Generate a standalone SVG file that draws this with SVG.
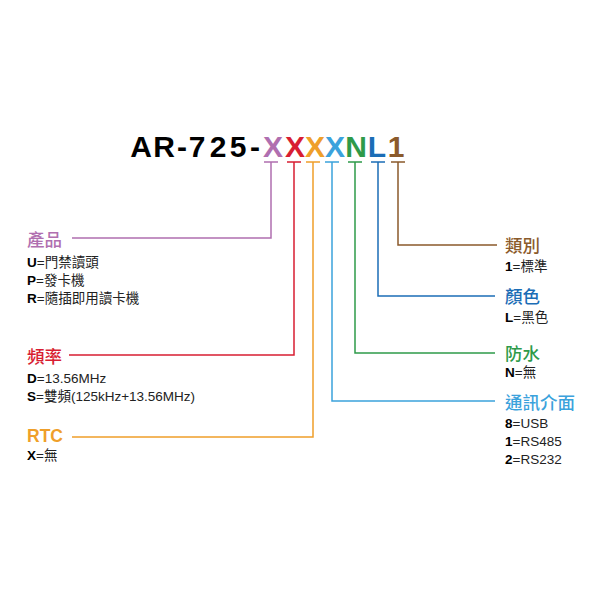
<svg xmlns="http://www.w3.org/2000/svg" width="600" height="600" viewBox="0 0 600 600">
<style>
.t{font-family:"Liberation Sans","Noto Sans CJK TC",sans-serif;font-weight:bold;font-size:30px;text-anchor:middle}
.h{font-family:"Liberation Sans","Noto Sans CJK TC",sans-serif;font-size:17.5px;font-weight:500}
.h.bold{font-weight:bold}
.d{font-family:"Liberation Sans","Noto Sans CJK TC",sans-serif;font-size:13.5px;fill:#222}
.d tspan.b{font-weight:bold;fill:#000}
.c{fill:none;stroke-width:1.5}
</style>
<rect width="600" height="600" fill="#fff"/>
<g id="title">
<text class="t" x="141" y="157">A</text>
<text class="t" x="164" y="157">R</text>
<text class="t" x="182" y="157">-</text>
<text class="t" x="197" y="157">7</text>
<text class="t" x="218" y="157">2</text>
<text class="t" x="238" y="157">5</text>
<text class="t" x="255" y="157">-</text>
<text class="t" x="273" y="157" fill="#b06fb0">X</text>
<text class="t" x="295" y="157" fill="#d81e32">X</text>
<text class="t" x="315" y="157" fill="#ef9f2a">X</text>
<text class="t" x="335" y="157" fill="#3ba2dc">X</text>
<text class="t" x="356" y="157" fill="#2e9a4a">N</text>
<text class="t" x="377" y="157" fill="#1b6db6">L</text>
<text class="t" x="396" y="157" fill="#8b5a2b">1</text>
</g>
<g id="connectors">
<path class="c" stroke="#b06fb0" d="M264 162H278M271 162V238H72"/>
<path class="c" stroke="#d81e32" d="M287 162H301M294 162V355H69"/>
<path class="c" stroke="#ef9f2a" d="M306 162H320M313 162V437H72"/>
<path class="c" stroke="#3ba2dc" d="M325 162H339M332 162V401H495"/>
<path class="c" stroke="#2e9a4a" d="M348 162H362M355 162V353H495"/>
<path class="c" stroke="#1b6db6" d="M371 162H385M378 162V296H495"/>
<path class="c" stroke="#8b5a2b" d="M391 162H405M398 162V245H497"/>
</g>
<g id="product">
<text class="h" x="27" y="246" fill="#b06fb0">產品</text>
<text class="d" x="27" y="267"><tspan class="b">U</tspan>=門禁讀頭</text>
<text class="d" x="27" y="285"><tspan class="b">P</tspan>=發卡機</text>
<text class="d" x="27" y="303"><tspan class="b">R</tspan>=隨插即用讀卡機</text>
</g>
<g id="frequency">
<text class="h" x="27" y="363" fill="#d81e32">頻率</text>
<text class="d" x="27" y="383"><tspan class="b">D</tspan>=13.56MHz</text>
<text class="d" x="27" y="401"><tspan class="b">S</tspan>=雙頻(125kHz+13.56MHz)</text>
</g>
<g id="rtc">
<text class="h bold" x="27" y="442" fill="#ef9f2a">RTC</text>
<text class="d" x="27" y="460"><tspan class="b">X</tspan>=無</text>
</g>
<g id="category">
<text class="h" x="505" y="252" fill="#8b5a2b">類別</text>
<text class="d" x="505" y="271"><tspan class="b">1</tspan>=標準</text>
</g>
<g id="color">
<text class="h" x="505" y="303" fill="#1b6db6">顏色</text>
<text class="d" x="505" y="322"><tspan class="b">L</tspan>=黑色</text>
</g>
<g id="waterproof">
<text class="h" x="505" y="360" fill="#2e9a4a">防水</text>
<text class="d" x="505" y="377"><tspan class="b">N</tspan>=無</text>
</g>
<g id="interface">
<text class="h" x="505" y="409" fill="#3ba2dc">通訊介面</text>
<text class="d" x="505" y="428"><tspan class="b">8</tspan>=USB</text>
<text class="d" x="505" y="446"><tspan class="b">1</tspan>=RS485</text>
<text class="d" x="505" y="464"><tspan class="b">2</tspan>=RS232</text>
</g>
</svg>
